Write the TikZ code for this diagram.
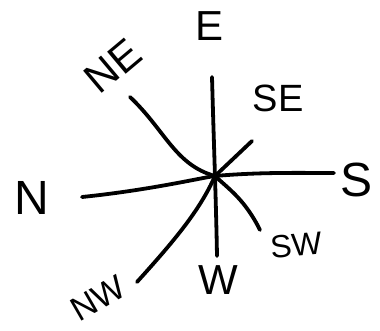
\documentclass[tikz,border=0pt]{standalone}
\usepackage{fontspec}
\setmainfont{Liberation Sans}
\begin{document}
\begin{tikzpicture}[x=1pt,y=-1pt,
  stroke/.style={line width=3.8pt,line cap=round,line join=round,black},
  lbl/.style={inner sep=0pt,font=\fontsize{42}{42}\selectfont}]
\useasboundingbox (0,0) rectangle (380,331);
\coordinate (c) at (215,176);
\coordinate (top) at (212,77);
\coordinate (bot) at (217,256);
\coordinate (left) at (82,197);
\coordinate (right) at (334,173);
\coordinate (ne) at (130,97);
\coordinate (se) at (252,141);
\coordinate (sw) at (260,230);
\coordinate (nw) at (137,282);
\draw[stroke] (top) .. controls (214,150) and (216,200) .. (bot);
\draw[stroke] (left) .. controls (150,190) and (200,178) .. (c) .. controls (260,172) and (300,173) .. (right);
\draw[stroke] (ne) .. controls (165,130) and (175,165) .. (c);
\draw[stroke] (c) -- (se);
\draw[stroke] (c) .. controls (230,190) and (245,200) .. (sw);
\draw[stroke] (c) .. controls (200,210) and (175,240) .. (nw);
\node[lbl] (tE) at (210,26) {E};
\node[lbl,rotate=40] (tNE) at (113,66) {NE};
\node[lbl,font=\fontsize{38}{38}\selectfont] (tSE) at (278,98) {SE};
\node[lbl,font=\fontsize{48}{48}\selectfont] (tS) at (357,180) {S};
\node[lbl,font=\fontsize{32}{32}\selectfont,rotate=5] (tSW) at (296,245) {SW};
\node[lbl] (tW) at (218,280) {W};
\node[lbl,font=\fontsize{34}{34}\selectfont,rotate=30] (tNW) at (98,298) {NW};
\node[lbl,font=\fontsize{48}{48}\selectfont] (tN) at (32,198) {N};
\end{tikzpicture}
\end{document}
